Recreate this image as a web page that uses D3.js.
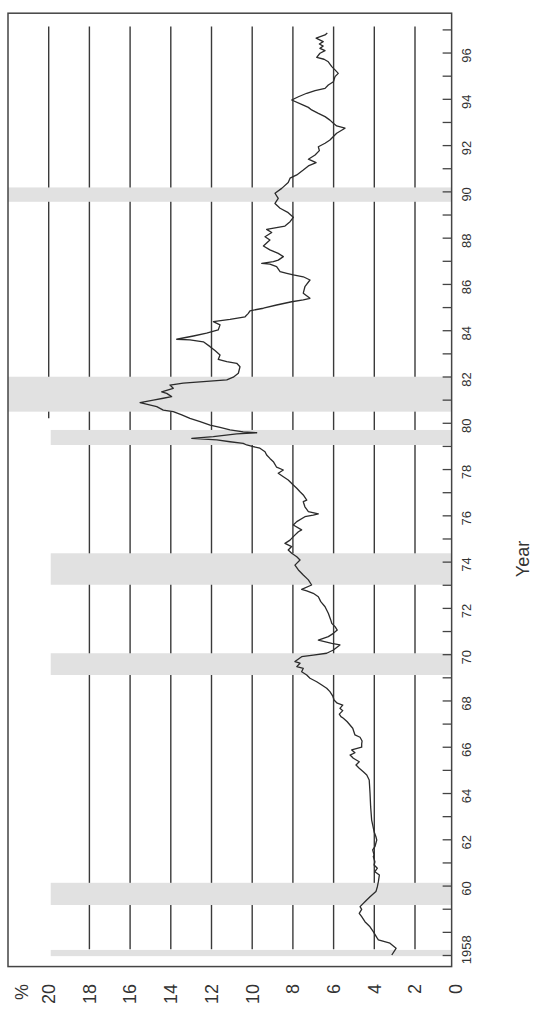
<!DOCTYPE html>
<html><head><meta charset="utf-8">
<script src="https://cdn.jsdelivr.net/npm/d3@7"></script>
<style>body{margin:0;background:#fff}svg{display:block}</style>
</head><body><svg id="c" width="533" height="1010"></svg>
<script>
// ---- data ----
const years = [1957.00,1957.29,1957.51,1957.65,1957.76,1958.01,1958.22,1958.44,1958.66,1958.80,1958.97,1959.09,1959.30,1959.52,1959.74,1959.95,1960.17,1960.46,1960.60,1960.75,1960.89,1961.03,1961.25,1961.32,1961.54,1961.68,1961.97,1962.11,1962.33,1962.62,1962.83,1963.41,1963.99,1964.56,1964.78,1964.92,1965.07,1965.21,1965.35,1965.50,1965.64,1965.74,1965.86,1965.98,1966.12,1966.25,1966.41,1966.51,1966.80,1967.08,1967.23,1967.30,1967.41,1967.56,1967.66,1967.80,1967.88,1968.02,1968.19,1968.38,1968.53,1968.67,1968.81,1968.96,1969.10,1969.24,1969.39,1969.46,1969.61,1969.68,1969.89,1969.96,1970.04,1970.18,1970.40,1970.47,1970.61,1970.76,1970.90,1971.04,1971.19,1971.33,1971.48,1971.77,1972.05,1972.27,1972.48,1972.63,1972.74,1972.80,1972.99,1973.21,1973.42,1973.64,1973.85,1974.07,1974.21,1974.36,1974.50,1974.65,1974.79,1974.93,1975.08,1975.29,1975.37,1975.58,1975.73,1975.94,1976.01,1976.06,1976.16,1976.37,1976.59,1976.66,1976.88,1977.02,1977.17,1977.31,1977.53,1977.67,1977.82,1977.96,1978.08,1978.32,1978.46,1978.61,1978.75,1978.90,1978.97,1979.04,1979.11,1979.18,1979.26,1979.33,1979.40,1979.52,1979.57,1979.61,1979.69,1979.80,1979.90,1980.05,1980.19,1980.34,1980.48,1980.55,1980.70,1980.87,1980.98,1981.06,1981.13,1981.27,1981.34,1981.49,1981.63,1981.71,1981.78,1981.85,1981.97,1982.14,1982.42,1982.57,1982.64,1982.74,1982.93,1983.12,1983.29,1983.50,1983.58,1983.61,1983.75,1983.87,1984.01,1984.23,1984.37,1984.47,1984.58,1984.73,1984.84,1984.95,1985.09,1985.23,1985.31,1985.38,1985.60,1985.88,1986.17,1986.31,1986.39,1986.46,1986.53,1986.75,1986.86,1986.89,1986.96,1987.03,1987.18,1987.32,1987.47,1987.64,1987.90,1988.04,1988.22,1988.36,1988.50,1988.69,1988.88,1989.08,1989.27,1989.48,1989.70,1989.92,1990.13,1990.38,1990.57,1990.71,1990.92,1991.10,1991.24,1991.39,1991.57,1991.76,1991.93,1992.08,1992.22,1992.51,1992.73,1992.83,1992.94,1993.08,1993.23,1993.37,1993.52,1993.63,1993.73,1993.95,1994.09,1994.24,1994.35,1994.45,1994.60,1994.74,1994.96,1995.10,1995.25,1995.39,1995.60,1995.71,1995.79,1995.97,1996.08,1996.18,1996.28,1996.37,1996.47,1996.62,1996.76,1996.84];
const rates = [3.14,2.93,3.23,3.80,3.88,4.05,4.21,4.46,4.62,4.74,4.62,4.70,4.46,4.21,3.92,3.85,3.80,3.75,3.97,3.85,4.01,3.97,4.05,4.01,4.08,3.97,3.88,3.92,4.01,4.08,4.13,4.18,4.21,4.25,4.37,4.54,4.74,4.90,4.74,5.03,5.19,4.95,5.11,4.62,4.62,4.60,4.70,4.95,5.06,5.33,5.52,5.64,5.72,5.55,5.69,5.55,5.82,5.98,6.04,6.18,6.34,6.58,6.83,7.16,7.32,7.57,7.49,7.81,7.65,7.90,7.57,7.00,6.34,6.01,5.69,6.09,6.75,6.26,6.01,5.82,5.93,6.09,6.14,6.26,6.42,6.63,6.75,7.00,7.32,7.57,7.08,7.24,7.49,7.73,7.90,7.65,7.81,8.06,8.23,8.06,8.39,8.14,7.98,7.73,7.57,7.98,7.81,7.41,7.00,6.75,7.24,7.41,7.49,7.32,7.49,7.65,7.81,7.98,8.23,8.47,8.72,8.47,8.80,8.96,9.13,9.29,9.37,9.62,9.95,10.27,10.44,11.09,11.74,12.97,11.91,10.76,9.78,10.44,11.09,11.58,12.07,12.56,13.06,13.46,13.88,14.37,14.69,15.51,14.86,14.37,13.96,14.20,14.45,13.88,14.04,13.39,12.40,11.25,10.93,10.68,10.60,10.76,11.25,11.67,11.58,11.83,12.07,12.40,13.06,13.71,12.89,12.24,11.67,11.58,11.91,11.09,10.35,10.19,10.11,9.45,8.80,8.06,7.49,7.16,7.49,7.41,7.16,7.49,7.98,8.30,8.63,8.80,9.13,9.53,8.96,8.72,8.47,8.72,9.13,9.45,9.13,9.37,9.04,9.29,8.39,8.14,7.98,8.23,8.63,8.88,8.72,8.88,8.55,8.23,8.14,7.81,7.49,7.24,6.86,7.24,6.91,6.70,6.75,6.42,6.18,5.85,5.44,5.85,6.01,6.18,6.42,6.75,7.08,7.24,7.49,8.06,7.73,7.32,6.91,6.42,6.26,6.01,5.93,5.77,5.93,6.09,6.26,6.47,6.83,6.67,6.42,6.67,6.51,6.70,6.51,6.86,6.42,6.31];

const recessionStart = [1956.95, 1959.16, 1969.10, 1973.00, 1979.04, 1980.48, 1989.55];
const recessionEnd   = [1957.22, 1960.12, 1970.04, 1974.36, 1979.69, 1981.99, 1990.17];
const recessionTop   = [19.9, 19.9, 19.9, 19.9, 19.9, 22, 22];   // % level where band stops

const gridValues = [2,4,6,8,10,12,14,16,18,20];
const gridFrom   = [1957.25,1957.25,1957.25,1957.25,1957.25,1957.25,1957.25,1957.25,1957.25,1980.2];
const gridTo     = 1997.12;

const yearTicks = d3.range(1957, 1998);
const yearLabelValues = [1958,1960,1962,1964,1966,1968,1970,1972,1974,1976,1978,1980,1982,1984,1986,1988,1990,1992,1994,1996];
const yearLabels = ["1958","60","62","64","66","68","70","72","74","76","78","80","82","84","86","88","90","92","94","96"];
const rateTicks = [0,2,4,6,8,10,12,14,16,18,20];
const rateLabels = ["0","2","4","6","8","10","12","14","16","18","20"];

// ---- scales (chart is drawn rotated: years run upward, % runs leftward) ----
const yS = d3.scaleLinear().domain([1957, 1997]).range([955, 29.4]);
const xS = d3.scaleLinear().domain([0, 20]).range([455.7, 48.7]);

const svg = d3.select("#c");
const ink = "#333";

const fx0 = xS(22), fx1 = xS(0.2), fy0 = yS(1997.7), fy1 = yS(1956.5);

// gridlines
svg.append("g").selectAll("line").data(gridValues).join("line")
  .attr("x1", d => xS(d)).attr("x2", d => xS(d))
  .attr("y1", (d,i) => yS(gridFrom[i])).attr("y2", yS(gridTo))
  .attr("stroke", "#3a3a3a").attr("stroke-width", 1.4);

// recession bands
svg.append("g").selectAll("rect").data(recessionStart).join("rect")
  .attr("x", (d,i) => Math.max(fx0, xS(recessionTop[i])))
  .attr("width", (d,i) => fx1 - Math.max(fx0, xS(recessionTop[i])))
  .attr("y", (d,i) => yS(recessionEnd[i]))
  .attr("height", (d,i) => yS(d) - yS(recessionEnd[i]))
  .attr("fill", "#e1e1e1");

// series line
const pts = years.map((y,i) => [y, rates[i]]);
svg.append("path").datum(pts)
  .attr("d", d3.line().x(d => xS(d[1])).y(d => yS(d[0])))
  .attr("fill", "none").attr("stroke", "#2b2b2b").attr("stroke-width", 1.3)
  .attr("stroke-linejoin", "round");

// frame
svg.append("rect").attr("x", fx0).attr("y", fy0)
  .attr("width", fx1 - fx0).attr("height", fy1 - fy0)
  .attr("fill", "none").attr("stroke", "#444").attr("stroke-width", 1.5);

// year axis ticks (inward)
const axisG = svg.append("g").attr("transform", `translate(${fx1},0)`)
  .call(d3.axisLeft(yS).tickValues(yearTicks).tickSize(9).tickFormat(""));
axisG.select(".domain").remove();
axisG.selectAll(".tick line").attr("stroke", "#444").attr("stroke-width", 1.3);

// year labels (rotated)
svg.append("g").selectAll("text").data(yearLabelValues).join("text")
  .attr("transform", (d,i) => `translate(466.7,${yS(d) + 3 + (i === 0 ? 15 : 0)}) rotate(-90)`)
  .attr("text-anchor", "middle").attr("dy", "0.35em")
  .attr("font-family", "Liberation Sans, Arial, sans-serif").attr("font-size", 13)
  .attr("fill", ink).text((d,i) => yearLabels[i]);

// % labels (rotated)
svg.append("g").selectAll("text").data(rateTicks).join("text")
  .attr("transform", d => `translate(${xS(d)},984) rotate(-90)`)
  .attr("text-anchor", "end").attr("dy", "0.35em")
  .attr("font-family", "Liberation Sans, Arial, sans-serif").attr("font-size", 18)
  .attr("fill", ink).text((d,i) => rateLabels[i]);

svg.append("text").attr("transform", "translate(22,984) rotate(-90)")
  .attr("text-anchor", "end").attr("dy", "0.35em")
  .attr("font-family", "Liberation Sans, Arial, sans-serif").attr("font-size", 18)
  .attr("fill", ink).text("%");

svg.append("text").attr("transform", "translate(523,559) rotate(-90)")
  .attr("text-anchor", "middle").attr("dy", "0.35em")
  .attr("font-family", "Liberation Sans, Arial, sans-serif").attr("font-size", 18)
  .attr("fill", ink).text("Year");
</script></body></html>
